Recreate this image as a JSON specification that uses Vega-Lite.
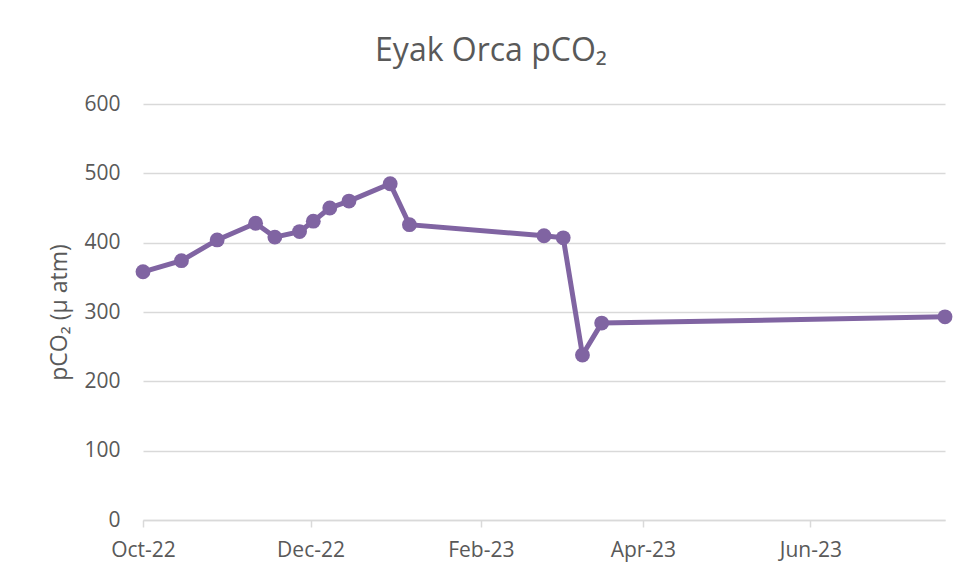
{
  "$schema": "https://vega.github.io/schema/vega-lite/v6.json",
  "width": 802,
  "height": 416,
  "autosize": {"type": "none"},
  "padding": {"left": 143, "top": 104, "right": 19, "bottom": 60},
  "background": "white",
  "title": {
    "text": "Eyak Orca pCO₂",
    "fontSize": 32,
    "font": "Open Sans",
    "fontWeight": "normal",
    "color": "#595959",
    "anchor": "middle",
    "dx": -53,
    "offset": 25
  },
  "data": {
    "values": [
      {"date": "2022-10-01", "pco2": 358},
      {"date": "2022-10-15", "pco2": 374},
      {"date": "2022-10-28", "pco2": 404},
      {"date": "2022-11-11", "pco2": 428},
      {"date": "2022-11-18", "pco2": 408},
      {"date": "2022-11-27", "pco2": 416},
      {"date": "2022-12-02", "pco2": 431},
      {"date": "2022-12-08", "pco2": 450},
      {"date": "2022-12-15", "pco2": 460},
      {"date": "2022-12-30", "pco2": 485},
      {"date": "2023-01-06", "pco2": 426},
      {"date": "2023-02-24", "pco2": 410},
      {"date": "2023-03-03", "pco2": 407},
      {"date": "2023-03-10", "pco2": 238},
      {"date": "2023-03-17", "pco2": 284},
      {"date": "2023-07-20", "pco2": 293}
    ]
  },
  "mark": {"type": "line", "color": "#8064A2", "strokeWidth": 5, "point": {"filled": true, "size": 220, "color": "#8064A2", "opacity": 1}},
  "encoding": {
    "x": {
      "field": "date",
      "type": "temporal",
      "scale": {"domain": ["2022-10-01", "2023-07-20"], "nice": false},
      "axis": {
        "title": null,
        "values": ["2022-10-01", "2022-12-01", "2023-02-01", "2023-04-01", "2023-06-01"],
        "format": "%b-%y",
        "grid": false,
        "domainColor": "#d9d9d9",
        "domainWidth": 1.5,
        "tickColor": "#d9d9d9",
        "tickSize": 7,
        "tickWidth": 1.5,
        "labelFlush": false,
        "labelOverlap": false,
        "labelFont": "Open Sans",
        "labelFontSize": 21,
        "labelColor": "#595959",
        "labelPadding": 12
      }
    },
    "y": {
      "field": "pco2",
      "type": "quantitative",
      "scale": {"domain": [0, 600], "nice": false},
      "axis": {
        "title": "pCO₂ (µ atm)",
        "titleFont": "Open Sans",
        "titleFontSize": 23,
        "titleFontWeight": "normal",
        "titleColor": "#595959",
        "titlePadding": 12,
        "values": [0, 100, 200, 300, 400, 500, 600],
        "domain": false,
        "ticks": false,
        "grid": true,
        "gridColor": "#d9d9d9",
        "gridWidth": 1.5,
        "labelFont": "Open Sans",
        "labelFontSize": 21,
        "labelColor": "#595959",
        "labelPadding": 23
      }
    }
  },
  "config": {"view": {"stroke": null}}
}
